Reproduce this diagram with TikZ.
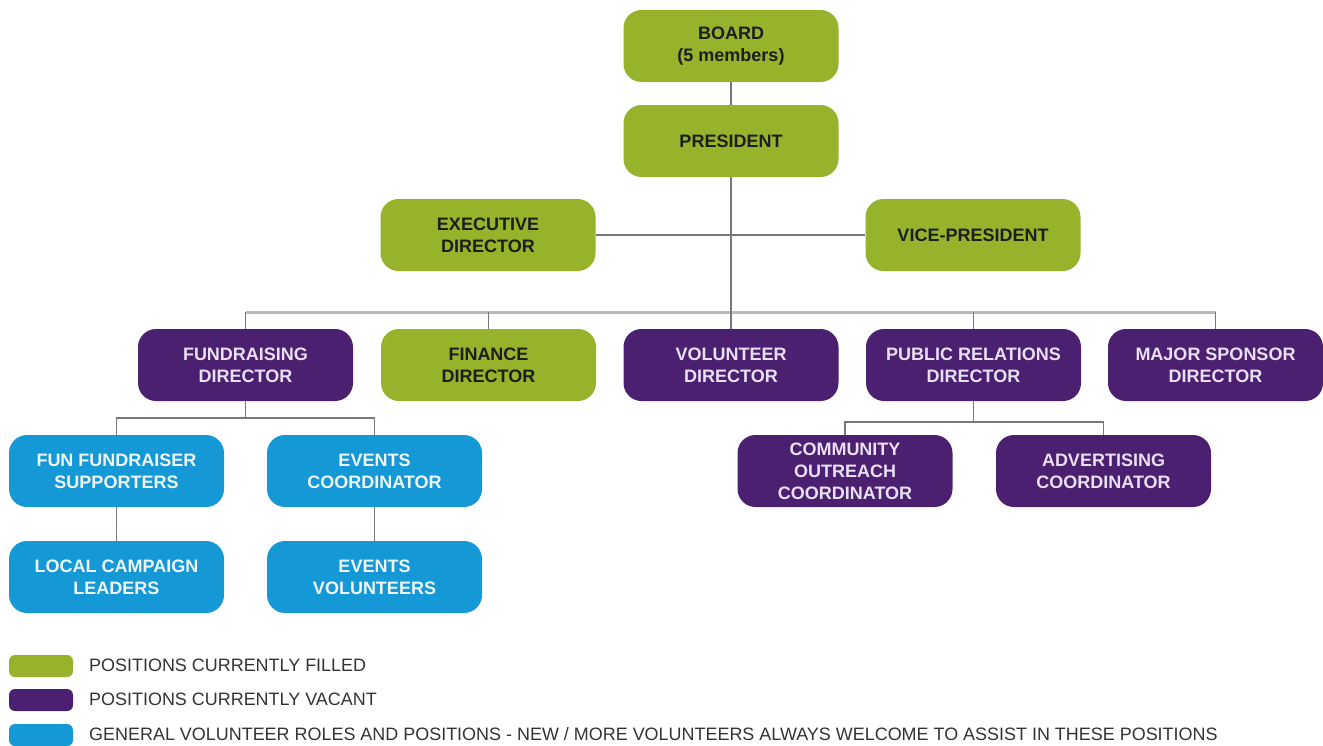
\documentclass[tikz,border=0pt]{standalone}
\usepackage{fontspec}
\setmainfont{Liberation Sans}
\definecolor{cgreen}{RGB}{151,178,43}
\definecolor{cpurple}{RGB}{76,32,112}
\definecolor{cblue}{RGB}{21,152,214}
\definecolor{tpurple}{RGB}{232,224,242}
\definecolor{tblue}{RGB}{238,246,252}
\definecolor{tdark}{RGB}{30,30,30}
\definecolor{cline}{RGB}{120,120,120}
\definecolor{cbus}{RGB}{185,185,185}
\begin{document}
\begin{tikzpicture}[x=1pt,y=-1pt,
  box/.style={rectangle, rounded corners=18pt, minimum width=215pt, minimum height=72pt,
    inner sep=0pt, align=center, font=\fontsize{18}{22}\selectfont\bfseries},
  gbox/.style={box, fill=cgreen, text=tdark},
  pbox/.style={box, fill=cpurple, text=tpurple},
  bbox/.style={box, fill=cblue, text=tblue},
  conn/.style={draw=cline, line width=1.4pt},
  bus/.style={draw=cbus, line width=3pt},
  chip/.style={rectangle, rounded corners=6pt, minimum width=64pt, minimum height=22pt, inner sep=0pt},
  legtext/.style={anchor=west, inner sep=0pt, text=black!80, font=\fontsize{17.95}{20}\selectfont}]
\useasboundingbox (0,0) rectangle (1323,745);

\coordinate (bus) at (731,312);
\coordinate (fbus) at (245.5,418);
\coordinate (pbus) at (973.5,422);

\node[gbox] (board) at (731,46) {BOARD\\(5 members)};
\node[gbox] (president) at (731,141) {PRESIDENT};
\node[gbox] (exec) at (488,235) {EXECUTIVE\\DIRECTOR};
\node[gbox] (vp) at (973,235) {VICE-PRESIDENT};

\node[pbox] (fund) at (245.5,365) {FUNDRAISING\\DIRECTOR};
\node[gbox] (finance) at (488.5,365) {FINANCE\\DIRECTOR};
\node[pbox] (vol) at (731,365) {VOLUNTEER\\DIRECTOR};
\node[pbox] (pr) at (973.5,365) {PUBLIC RELATIONS\\DIRECTOR};
\node[pbox] (major) at (1215.5,365) {MAJOR SPONSOR\\DIRECTOR};

\node[bbox] (fun) at (116.5,471) {FUN FUNDRAISER\\SUPPORTERS};
\node[bbox] (events) at (374.5,471) {EVENTS\\COORDINATOR};
\node[pbox] (community) at (845,471) {COMMUNITY\\OUTREACH\\COORDINATOR};
\node[pbox] (advert) at (1103.5,471) {ADVERTISING\\COORDINATOR};

\node[bbox] (local) at (116.5,577) {LOCAL CAMPAIGN\\LEADERS};
\node[bbox] (eventsvol) at (374.5,577) {EVENTS\\VOLUNTEERS};

% main bus
\draw[bus] (fund.north |- bus) -- (major.north |- bus);
\draw[conn] (board) -- (president);
\draw[conn] (exec.east) -- (vp.west);
\draw[conn] (president.south) -- (vol.north);
\draw[conn] (fund.north) -- (fund.north |- bus);
\draw[conn] (finance.north) -- (finance.north |- bus);
\draw[conn] (pr.north) -- (pr.north |- bus);
\draw[conn] (major.north) -- (major.north |- bus);

\draw[conn] (fund.south) -- (fbus);
\draw[conn] (fun.north) |- (fbus) -| (events.north);
\draw[conn] (fun.south) -- (local.north);
\draw[conn] (events.south) -- (eventsvol.north);

\draw[conn] (pr.south) -- (pbus);
\draw[conn] (community.north) |- (pbus) -| (advert.north);

% legend
\node[chip, fill=cgreen] (lgreen) at (41,666) {};
\node[chip, fill=cpurple] (lpurple) at (41,700) {};
\node[chip, fill=cblue] (lblue) at (41,735) {};
\node[legtext] (tgreen) at (89,665) {POSITIONS CURRENTLY FILLED};
\node[legtext] (tpurple) at (89,699) {POSITIONS CURRENTLY VACANT};
\node[legtext] (tblue) at (89,734) {GENERAL VOLUNTEER ROLES AND POSITIONS - NEW / MORE VOLUNTEERS ALWAYS WELCOME TO ASSIST IN THESE POSITIONS};
\end{tikzpicture}
\end{document}
